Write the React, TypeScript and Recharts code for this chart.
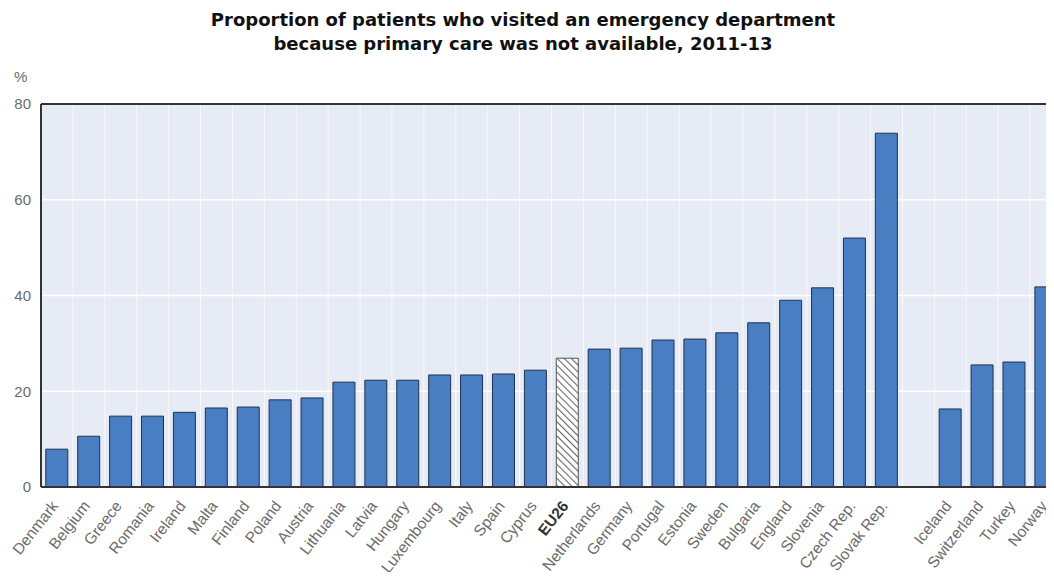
import React from "react";
import {
    BarChart,
    Bar,
    Cell,
    XAxis,
    YAxis,
    CartesianGrid,
    ReferenceLine,
} from "recharts";

const countries = [
    "Denmark", "Belgium", "Greece", "Romania", "Ireland", "Malta", "Finland",
    "Poland", "Austria", "Lithuania", "Latvia", "Hungary", "Luxembourg", "Italy",
    "Spain", "Cyprus", "EU26", "Netherlands", "Germany", "Portugal", "Estonia",
    "Sweden", "Bulgaria", "England", "Slovenia", "Czech Rep.", "Slovak Rep.",
    "", "Iceland", "Switzerland", "Turkey", "Norway",
];

const shares: (number | null)[] = [
    7.9, 10.6, 14.8, 14.8, 15.6, 16.5, 16.7,
    18.2, 18.6, 21.9, 22.3, 22.3, 23.4, 23.4,
    23.6, 24.4, 26.9, 28.8, 29.0, 30.7, 30.9,
    32.2, 34.3, 39.0, 41.6, 52.0, 73.9,
    null, 16.3, 25.5, 26.1, 41.8,
];

const yTicks = [0, 20, 40, 60, 80];

const highlight = "EU26";

const data = countries.map((name, i) => ({ name, value: shares[i] }));

const barColor = "#4a7ec2";
const barEdge = "#1d3350";
const labelFont = "'Liberation Sans', Arial, sans-serif";

const CountryTick = (props: any) => {
    const { x, y, payload } = props;
    const isEU = payload.value === highlight;
    return (
        <g transform={`translate(${x - 6},${y + 5})`}>
            <text
                transform="rotate(-52)"
                textAnchor="end"
                dy={10}
                fontSize={15.5}
                fontFamily={labelFont}
                fontWeight={isEU ? 700 : 400}
                fill={isEU ? "#333" : "#6b6b6b"}
            >
                {payload.value}
            </text>
        </g>
    );
};

const App: React.FC = () => {
    // faint vertical lines sit between the bars, not on the ticks
    const boundaries = ({ offset }: any) => {
        const n = countries.length;
        return Array.from({ length: n + 1 }, (_, i) => offset.left + (i * offset.width) / n);
    };

    return (
        <div
            style={{
                position: "relative",
                width: 1046,
                height: 572,
                marginBottom: -8,
                overflow: "hidden",
            }}
        >
            <div
                style={{
                    position: "absolute",
                    left: 0,
                    top: 0,
                    width: 1030,
                    textAlign: "center",
                    fontFamily: "'DejaVu Sans', Verdana, sans-serif",
                    fontWeight: 700,
                    fontSize: 18,
                    lineHeight: "24px",
                    color: "#111",
                    zIndex: 1,
                }}
            >
                Proportion of patients who visited an emergency department
                <br />
                because primary care was not available, 2011-13
            </div>
            <div
                style={{
                    position: "absolute",
                    left: 6,
                    top: 60,
                    fontFamily: labelFont,
                    fontSize: 15,
                    color: "#6b6b6b",
                    zIndex: 1,
                }}
            >
                %
            </div>
            <BarChart
                width={1060}
                height={572}
                data={data}
                margin={{ top: 96, right: 6, left: 0, bottom: 0 }}
                barCategoryGap="15%"
            >
                <defs>
                    <pattern
                        id="hatch"
                        width="5"
                        height="5"
                        patternUnits="userSpaceOnUse"
                        patternTransform="rotate(-45)"
                    >
                        <rect width="5" height="5" fill="#ffffff" />
                        <line x1="0" y1="0" x2="0" y2="5" stroke="#666" strokeWidth="2.2" />
                    </pattern>
                </defs>
                <CartesianGrid
                    fill="#e7ebf5"
                    stroke="#ffffff"
                    strokeWidth={1.5}
                    vertical={false}
                />
                <CartesianGrid
                    stroke="#ffffff"
                    strokeOpacity={0.7}
                    strokeWidth={1}
                    horizontal={false}
                    verticalCoordinatesGenerator={boundaries}
                />
                <XAxis
                    dataKey="name"
                    interval={0}
                    height={93}
                    tickLine={false}
                    axisLine={{ stroke: "#333", strokeWidth: 2 }}
                    tick={<CountryTick />}
                />
                <YAxis
                    domain={[0, 80]}
                    ticks={yTicks}
                    width={33}
                    tickLine={false}
                    axisLine={{ stroke: "#333", strokeWidth: 2 }}
                    tick={{ fontSize: 15, fill: "#6b6b6b", fontFamily: labelFont }}
                    tickMargin={4}
                />
                <ReferenceLine y={80} stroke="#333" strokeWidth={2} />
                <Bar dataKey="value" stroke={barEdge} strokeWidth={1} isAnimationActive={false}>
                    {data.map((d) => (
                        <Cell
                            key={d.name || "gap"}
                            fill={d.name === highlight ? "url(#hatch)" : barColor}
                            stroke={d.name === highlight ? "#555" : barEdge}
                        />
                    ))}
                </Bar>
            </BarChart>
        </div>
    );
};

export default App;
